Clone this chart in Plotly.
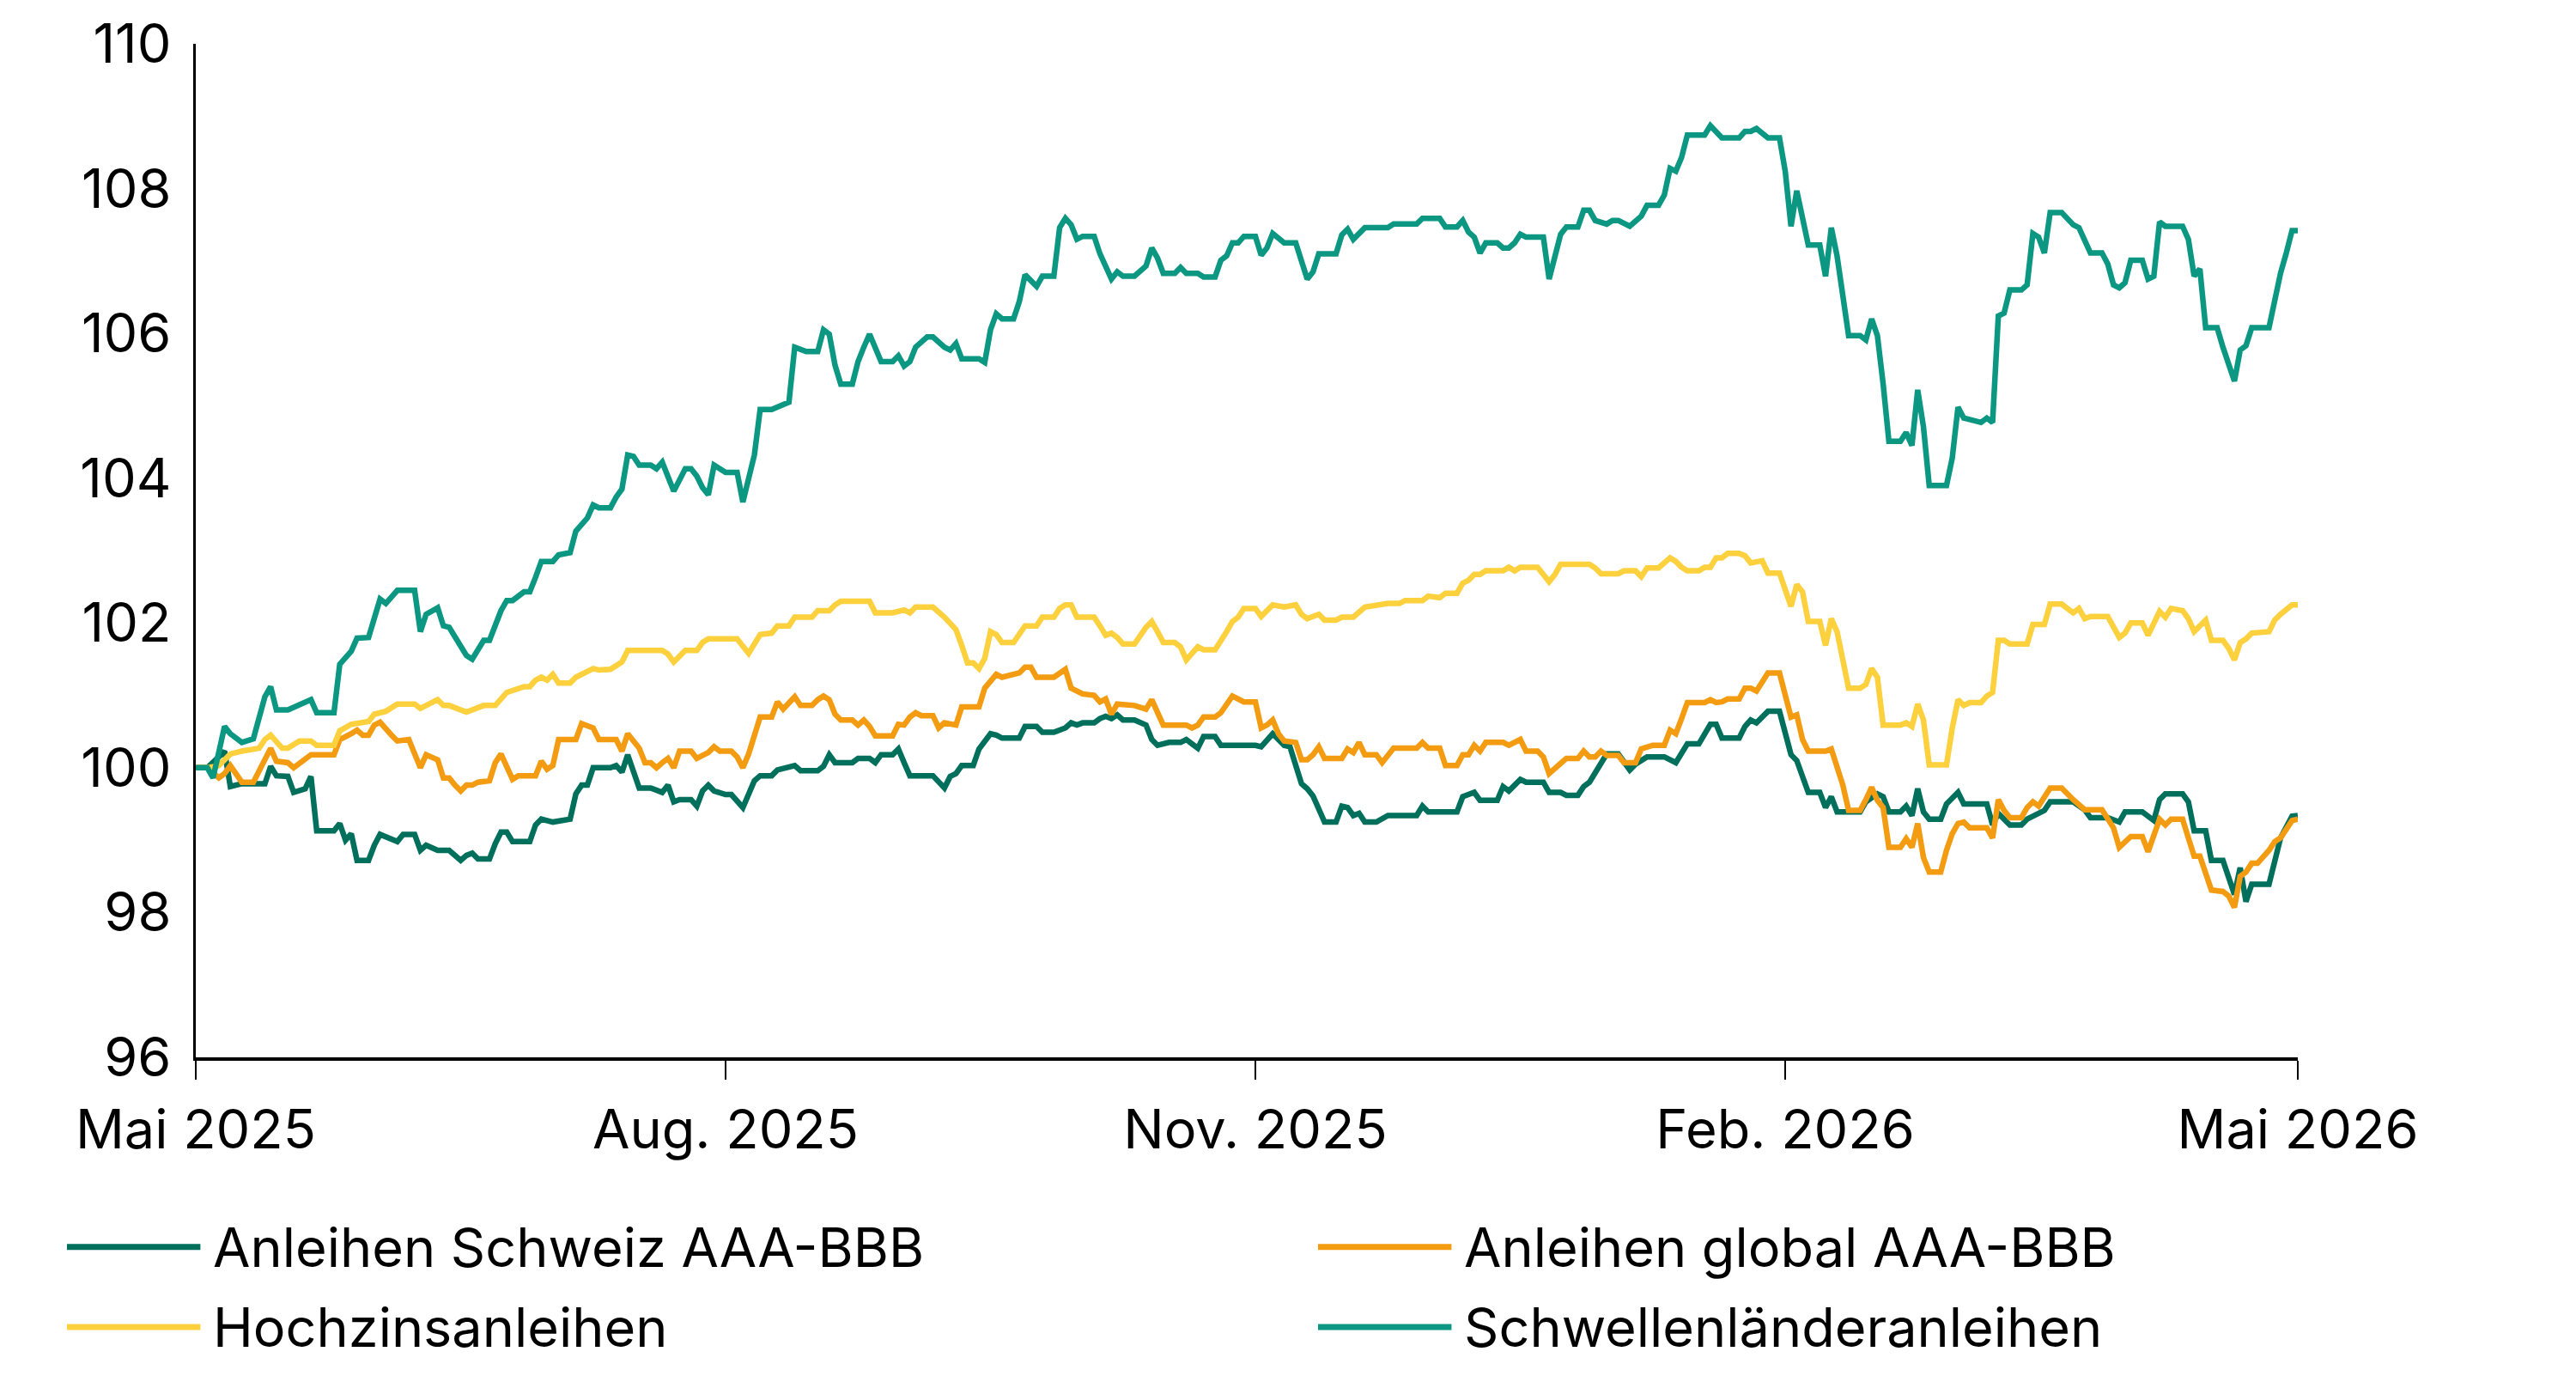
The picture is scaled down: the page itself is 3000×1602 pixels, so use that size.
import pandas as pd
import plotly.graph_objects as go

START = "2025-05-01"

series_names = ["Anleihen Schweiz AAA-BBB", "Anleihen global AAA-BBB",
                "Hochzinsanleihen", "Schwellenländeranleihen"]
series_colors = ["#006f5b", "#f39c12", "#fdd03e", "#0b9782"]

# days since 1 May 2025 and index values (100 = start)
schweiz_days = [0,2,4,5,6,8,12,13,14,16,17,19,20,21,24,25,26,27,28,30,31,32,35,36,38,39,40,42,44,46,47,48,49,51,52,53,54,55,58,59,60,62,65,66,67,68,69,72,73,
                74,75,76,77,79,81,82,83,84,86,87,88,89,90,92,93,95,96,97,98,100,101,103,104,105,108,109,110,111,114,115,117,118,119,121,122,123,124,128,130,131,132,133,135,136,138,139,140,143,
                144,146,147,149,151,152,153,154,156,157,158,159,160,161,163,165,166,167,169,171,172,173,174,175,177,178,180,184,185,187,189,190,192,193,194,196,198,199,200,201,202,203,205,207,212,213,214,
                219,220,222,223,226,227,228,230,231,234,235,237,238,240,241,242,245,247,249,250,252,255,257,259,261,263,264,265,268,269,270,271,273,275,276,277,278,279,280,282,283,284,285,
                289,290,292,293,294,296,297,298,299,300,301,303,304,306,307,311,312,313,315,317,318,321,322,326,328,329,332,334,335,338,340,341,342,345,346,347,349,350,352,354,355,356,357,360,362,364,365]
schweiz_vals = [100.0,100.0,100.15,100.23,99.74,99.78,99.78,100.02,99.89,99.88,99.66,99.71,99.88,99.13,99.13,99.23,99.0,99.09,98.72,98.72,98.93,99.08,98.98,99.08,99.08,98.86,98.93,98.86,98.86,98.72,98.79,98.82,98.74,98.74,98.95,99.11,99.11,98.98,98.98,99.21,99.29,99.25,99.29,99.64,99.76,99.76,100.0,100.0,100.03,
                99.94,100.18,99.97,99.72,99.72,99.66,99.76,99.53,99.56,99.56,99.47,99.68,99.76,99.68,99.63,99.63,99.45,99.64,99.82,99.89,99.89,99.97,100.02,100.03,99.96,99.96,100.02,100.18,100.07,100.07,100.13,100.13,100.07,100.18,100.18,100.26,100.07,99.89,99.89,99.72,99.88,99.92,100.03,100.03,100.26,100.47,100.45,100.41,100.41,
                100.57,100.57,100.49,100.49,100.55,100.62,100.59,100.62,100.62,100.68,100.71,100.68,100.73,100.66,100.66,100.59,100.39,100.31,100.35,100.35,100.39,100.33,100.27,100.43,100.43,100.31,100.31,100.31,100.29,100.47,100.31,100.29,99.78,99.71,99.61,99.25,99.25,99.47,99.45,99.34,99.37,99.25,99.25,99.34,99.34,99.47,99.39,
                99.39,99.6,99.66,99.55,99.55,99.74,99.68,99.84,99.8,99.8,99.66,99.66,99.62,99.62,99.74,99.8,100.19,100.19,99.97,100.05,100.15,100.15,100.07,100.33,100.33,100.6,100.6,100.41,100.41,100.57,100.66,100.62,100.78,100.78,100.47,100.18,100.1,99.86,99.66,99.66,99.45,99.6,99.39,
                99.39,99.53,99.64,99.6,99.39,99.39,99.47,99.34,99.71,99.39,99.29,99.29,99.5,99.66,99.5,99.5,99.21,99.37,99.21,99.21,99.29,99.41,99.53,99.53,99.42,99.31,99.31,99.25,99.39,99.39,99.27,99.56,99.64,99.64,99.53,99.13,99.13,98.72,98.72,98.25,98.62,98.15,98.39,98.39,99.03,99.33,99.34]

global_days = [0,2,4,5,6,8,10,11,13,14,16,17,20,24,25,27,28,29,30,31,32,34,35,37,38,39,40,42,43,44,45,46,47,48,49,51,52,53,55,56,59,60,61,62,63,66,67,69,70,73,
               74,75,77,78,79,80,81,82,83,84,86,87,89,90,91,93,94,95,96,97,98,100,101,102,104,105,107,108,109,110,111,112,114,115,116,117,118,121,122,123,124,125,126,128,129,130,132,133,136,137,139,140,142,143,144,145,146,149,
               151,152,154,156,157,158,159,160,163,165,166,168,172,173,174,175,177,178,180,182,184,185,186,187,188,189,191,192,193,194,195,196,199,200,201,202,203,205,206,208,212,213,214,216,
               217,219,220,221,222,223,224,227,228,230,231,233,234,235,237,238,240,241,242,243,244,245,247,248,250,251,253,255,256,257,258,259,262,263,264,265,266,268,269,270,271,273,275,276,277,278,279,280,283,284,285,
               286,287,289,290,291,292,293,294,296,297,298,299,300,301,303,304,305,306,307,308,311,312,313,314,315,317,318,319,320,322,324,326,327,328,331,333,334,335,336,338,339,341,342,343,345,346,347,348,350,352,353,354,355,356,357,358,360,361,362,364,365]
global_vals = [100.0,100.0,99.86,99.92,100.03,99.8,99.8,99.96,100.27,100.09,100.07,100.0,100.18,100.18,100.39,100.47,100.52,100.45,100.45,100.59,100.63,100.45,100.37,100.39,100.18,100.0,100.18,100.11,99.86,99.86,99.76,99.68,99.76,99.76,99.8,99.82,100.07,100.19,99.84,99.89,99.89,100.09,99.98,100.03,100.39,100.39,100.61,100.55,100.39,100.39,
               100.23,100.47,100.27,100.07,100.07,100.0,100.07,100.13,100.0,100.23,100.23,100.13,100.21,100.29,100.23,100.23,100.15,100.0,100.19,100.44,100.7,100.7,100.91,100.81,100.98,100.86,100.86,100.94,100.99,100.94,100.74,100.66,100.66,100.59,100.66,100.57,100.44,100.44,100.6,100.59,100.7,100.76,100.72,100.72,100.55,100.62,100.59,100.84,100.84,101.1,101.29,101.25,101.28,101.31,101.39,101.39,101.25,101.25,
               101.36,101.1,101.02,101.0,100.91,100.95,100.74,100.88,100.86,100.81,100.94,100.59,100.59,100.55,100.59,100.7,100.7,100.76,100.99,100.91,100.91,100.55,100.59,100.66,100.47,100.37,100.35,100.11,100.11,100.18,100.29,100.13,100.13,100.26,100.21,100.35,100.18,100.18,100.07,100.27,100.27,100.35,100.27,100.27,
               100.03,100.03,100.18,100.18,100.31,100.23,100.35,100.35,100.31,100.39,100.23,100.23,100.15,99.92,100.06,100.13,100.13,100.23,100.15,100.15,100.23,100.17,100.17,100.07,100.07,100.26,100.31,100.31,100.52,100.47,100.68,100.9,100.9,100.94,100.9,100.91,100.95,100.95,101.1,101.1,101.06,101.31,101.31,101.02,100.7,100.73,100.39,100.23,100.23,100.26,100.03,
               99.76,99.41,99.41,99.56,99.73,99.55,99.45,98.9,98.9,99.02,98.9,99.23,98.76,98.56,98.56,98.86,99.09,99.23,99.25,99.17,99.17,99.03,99.56,99.41,99.31,99.31,99.45,99.53,99.47,99.72,99.72,99.56,99.5,99.42,99.42,99.17,98.9,98.98,99.05,99.05,98.84,99.29,99.21,99.29,99.29,99.03,98.78,98.78,98.31,98.29,98.23,98.07,98.5,98.56,98.68,98.68,98.86,98.98,99.03,99.27,99.29]

hochzins_days = [0,2,4,6,8,11,12,13,15,16,18,20,21,24,25,27,30,31,33,35,38,39,40,42,43,44,47,50,52,53,54,57,58,59,60,61,62,63,65,66,68,69,70,72,74,75,81,82,83,85,87,88,89,94,96,97,98,100,101,103,104,107,108,110,111,112,117,118,121,123,124,125,128,130,132,133,134,135,136,137,138,139,140,142,143,144,146,147,149,150,151,152,153,156,157,158,159,160,161,163,165,166,167,168,170,171,172,174,175,177,179,180,181,182,184,185,187,189,191,192,193,195,196,198,199,201,203,207,209,210,213,214,216,217,219,220,221,222,223,224,227,228,229,230,233,234,235,236,237,242,243,244,247,248,250,251,252,254,256,257,258,259,261,262,263,264,265,266,268,269,270,272,273,275,276,277,278,279,280,282,283,284,285,286,287,289,290,291,292,293,296,297,298,299,300,301,304,305,306,307,308,310,311,312,313,314,315,318,319,321,322,324,326,327,328,329,332,334,335,336,338,339,341,342,343,345,346,347,349,350,352,353,354,355,356,357,360,361,362,364,365]
hochzins_vals = [100.0,100.0,100.03,100.19,100.23,100.27,100.39,100.45,100.27,100.27,100.37,100.37,100.31,100.31,100.51,100.6,100.64,100.74,100.78,100.88,100.88,100.82,100.86,100.94,100.86,100.86,100.77,100.86,100.86,100.94,101.04,101.12,101.12,101.21,101.25,101.21,101.29,101.17,101.17,101.25,101.32,101.37,101.35,101.36,101.46,101.62,101.62,101.57,101.46,101.62,101.62,101.73,101.78,101.78,101.58,101.71,101.84,101.86,101.96,101.96,102.08,102.08,102.17,102.17,102.25,102.3,102.3,102.14,102.14,102.18,102.14,102.22,102.22,102.08,101.91,101.69,101.45,101.45,101.37,101.51,101.88,101.84,101.73,101.73,101.86,101.96,101.96,102.08,102.08,102.2,102.25,102.25,102.08,102.08,101.96,101.83,101.86,101.8,101.71,101.71,101.94,102.02,101.88,101.73,101.73,101.67,101.49,101.67,101.63,101.63,101.88,102.02,102.08,102.2,102.2,102.09,102.25,102.22,102.25,102.12,102.06,102.12,102.04,102.04,102.08,102.08,102.22,102.27,102.27,102.31,102.31,102.37,102.35,102.41,102.41,102.55,102.59,102.67,102.67,102.72,102.72,102.77,102.72,102.77,102.77,102.67,102.57,102.67,102.81,102.81,102.76,102.68,102.68,102.72,102.72,102.64,102.76,102.76,102.9,102.85,102.77,102.72,102.72,102.77,102.77,102.9,102.9,102.96,102.96,102.93,102.83,102.86,102.69,102.69,102.47,102.23,102.53,102.43,102.02,102.02,101.69,102.06,101.88,101.53,101.1,101.1,101.15,101.37,101.25,100.59,100.59,100.62,100.57,100.88,100.66,100.04,100.04,100.55,100.94,100.86,100.9,100.9,100.99,101.04,101.76,101.76,101.71,101.71,101.98,101.98,102.26,102.26,102.14,102.2,102.06,102.09,102.09,101.8,101.86,102.0,102.0,101.83,102.16,102.08,102.2,102.17,102.06,101.88,102.04,101.76,101.76,101.65,101.49,101.73,101.78,101.86,101.88,102.04,102.12,102.25,102.25]

schwellen_days = [0,2,3,5,6,8,10,12,13,14,16,18,20,21,24,25,27,28,30,32,33,35,38,39,40,42,43,44,46,47,48,50,51,53,54,55,57,58,59,60,62,63,65,66,68,69,70,72,73,74,75,76,77,79,80,81,82,83,85,86,87,88,89,90,92,94,95,96,97,98,100,103,104,106,108,109,110,111,112,114,115,116,117,119,121,122,123,124,125,127,128,130,131,132,133,136,137,138,139,140,142,143,144,146,147,149,150,151,152,153,154,156,157,159,160,161,163,165,166,167,168,170,171,172,174,175,177,178,179,180,181,182,184,185,186,187,189,191,193,194,195,198,199,200,201,203,207,208,212,213,216,217,219,220,221,222,223,224,226,227,228,229,230,231,234,235,236,237,238,240,241,242,243,245,246,247,249,250,251,252,254,255,256,257,258,259,262,263,265,268,269,270,271,273,275,276,277,278,280,282,283,284,285,286,287,289,290,291,292,293,294,296,297,298,299,300,301,304,305,306,307,310,311,312,313,314,315,317,318,319,320,321,322,324,326,327,329,331,332,333,334,335,336,338,339,340,341,342,345,346,347,348,349,351,352,354,355,356,357,360,361,362,363,364,365]
schwellen_vals = [100.0,100.0,99.86,100.57,100.47,100.35,100.4,100.98,101.12,100.8,100.8,100.86,100.94,100.76,100.76,101.43,101.61,101.79,101.8,102.33,102.27,102.45,102.45,101.88,102.12,102.21,101.96,101.94,101.7,101.55,101.5,101.76,101.76,102.17,102.31,102.31,102.43,102.43,102.63,102.85,102.85,102.94,102.97,103.27,103.45,103.63,103.59,103.59,103.74,103.85,104.32,104.3,104.18,104.18,104.13,104.22,104.02,103.82,104.13,104.13,104.03,103.87,103.77,104.18,104.08,104.08,103.67,104.04,104.32,104.95,104.95,105.05,105.81,105.75,105.75,106.05,105.99,105.56,105.3,105.3,105.61,105.81,105.99,105.61,105.61,105.69,105.55,105.61,105.81,105.95,105.95,105.81,105.77,105.86,105.65,105.65,105.6,106.05,106.27,106.2,106.2,106.44,106.81,106.65,106.79,106.79,107.46,107.59,107.5,107.3,107.34,107.34,107.1,106.75,106.85,106.79,106.79,106.93,107.18,107.04,106.83,106.83,106.91,106.83,106.83,106.78,106.78,107.01,107.07,107.25,107.25,107.34,107.34,107.08,107.18,107.38,107.25,107.25,106.75,106.85,107.1,107.1,107.36,107.44,107.3,107.46,107.46,107.51,107.51,107.59,107.59,107.47,107.47,107.56,107.4,107.33,107.11,107.25,107.25,107.18,107.18,107.25,107.37,107.33,107.33,106.75,107.07,107.37,107.47,107.47,107.7,107.7,107.56,107.51,107.56,107.56,107.48,107.56,107.62,107.77,107.77,107.91,108.28,108.24,108.43,108.74,108.74,108.87,108.7,108.7,108.79,108.79,108.83,108.7,108.7,108.24,107.48,107.97,107.22,107.22,106.79,107.46,107.07,106.52,105.97,105.97,105.91,106.2,105.97,105.3,104.51,104.51,104.63,104.45,105.22,104.71,103.9,103.9,104.28,104.98,104.83,104.77,104.83,104.77,106.24,106.28,106.6,106.6,106.67,107.38,107.33,107.11,107.67,107.67,107.5,107.46,107.11,107.11,106.96,106.67,106.63,106.7,107.01,107.01,106.75,106.79,107.54,107.48,107.48,107.3,106.79,106.89,106.08,106.08,105.81,105.34,105.77,105.83,106.08,106.08,106.48,106.83,107.11,107.42,107.42]

tick_dates = ["2025-05-01", "2025-08-01", "2025-11-01", "2026-02-01", "2026-05-01"]
tick_labels = ["Mai 2025", "Aug. 2025", "Nov. 2025", "Feb. 2026", "Mai 2026"]
y_ticks = [96, 98, 100, 102, 104, 106, 108, 110]

all_days = [schweiz_days, global_days, hochzins_days, schwellen_days]
all_vals = [schweiz_vals, global_vals, hochzins_vals, schwellen_vals]

FONT = "Inter"
FS = 63

fig = go.Figure()
start = pd.Timestamp(START)
for name, color, days, vals in zip(series_names, series_colors, all_days, all_vals):
    dates = [start + pd.Timedelta(days=d) for d in days]
    fig.add_trace(go.Scatter(x=dates, y=vals, mode="lines", name=name,
                             line=dict(color=color, width=6.5), showlegend=False))

# manual two-column legend below the chart
leg_pos = [(-0.0613, -0.187), (0.5339, -0.187), (-0.0613, -0.266), (0.5339, -0.266)]
for (lx, ly), name, color in zip(leg_pos, series_names, series_colors):
    fig.add_shape(type="line", xref="paper", yref="paper", x0=lx, x1=lx + 0.0635,
                  y0=ly, y1=ly, line=dict(color=color, width=7))
    fig.add_annotation(xref="paper", yref="paper", x=lx + 0.0685, y=ly, text=name,
                       showarrow=False, xanchor="left", yanchor="middle",
                       font=dict(family=FONT, size=FS, color="#000000"))

fig.update_layout(
    width=3000, height=1602,
    margin=dict(l=228, r=324, t=48, b=371),
    paper_bgcolor="white", plot_bgcolor="white",
    font=dict(family=FONT, size=FS, color="#000000"),
    showlegend=False,
)
fig.update_xaxes(type="date", range=[tick_dates[0], tick_dates[-1]],
                 tickvals=tick_dates, ticktext=tick_labels,
                 ticks="outside", ticklen=22, tickwidth=2, tickcolor="#000000",
                 showline=True, linewidth=4, linecolor="#000000",
                 showgrid=False, zeroline=False, ticklabelstandoff=4,
                 tickfont=dict(family=FONT, size=FS, color="#000000"))
fig.update_yaxes(range=[96, 110], tickvals=y_ticks, ticks="",
                 showline=True, linewidth=3, linecolor="#000000",
                 showgrid=False, zeroline=False, ticklabelstandoff=13,
                 tickfont=dict(family=FONT, size=FS, color="#000000"))

fig.write_html("out.html")
